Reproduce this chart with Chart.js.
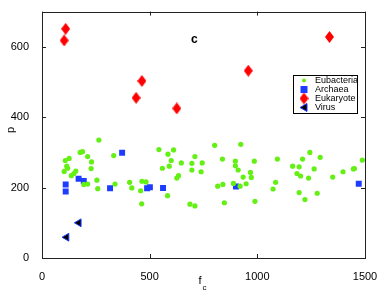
<!DOCTYPE html>
<html>
<head>
<meta charset="utf-8">
<script src="https://cdn.jsdelivr.net/npm/chart.js@4"></script>
<style>
  body { margin: 0; background: #fff; }
  canvas { display: block; }
</style>
</head>
<body>
<canvas id="my-chart" width="382" height="293"></canvas>
<script>
// values
var eubX = [264, 177, 188, 543, 611, 585, 108, 126, 115, 119, 103, 136, 148, 157, 212, 230, 228, 194, 212, 255,
            259, 333, 339, 407, 417, 464, 483, 458, 463, 559, 591, 600, 583, 647, 634, 626, 710, 696, 696, 687,
            710, 802, 923, 744, 739, 838, 898, 898, 911, 934, 968, 972, 986, 948, 889, 920, 840, 816, 847, 989,
            1093, 1085, 1073, 1164, 1194, 1210, 1244, 1292, 1264, 1184, 1201, 1238, 1194, 1221, 1278, 1350, 1398, 1446, 1451, 1488];
var eubY = [335, 300, 302, 308, 307, 295, 277, 283, 261, 255, 246, 234, 240, 247, 288, 273, 254, 209, 210, 221,
            197, 291, 210, 215, 199, 218, 216, 191, 154, 255, 261, 277, 177, 270, 234, 227, 288, 269, 250, 153,
            148, 320, 323, 270, 245, 281, 275, 262, 250, 230, 243, 229, 275, 211, 212, 204, 209, 204, 157, 161,
            281, 215, 196, 261, 259, 281, 300, 286, 253, 240, 233, 227, 186, 166, 184, 230, 245, 253, 254, 278];

var archX = [110, 110, 170, 194, 372, 316, 488, 501, 562, 901, 1471];
var archY = [209, 189, 225, 219, 299, 198, 198, 201, 199, 203, 211];

var eukX = [110, 103, 464, 437, 626, 1335, 958];
var eukY = [651, 618, 503, 455, 425, 628, 532];

var virX = [171, 114];
var virY = [100, 59];

var xTicks = [0, 500, 1000, 1500];
var yTicks = [0, 200, 400, 600];

function pts(xs, ys) {
  return xs.map(function (x, i) { return { x: x, y: ys[i] }; });
}

var green = 'rgb(100, 240, 20)';
var blue = 'rgb(30, 60, 255)';
var red = 'rgb(255, 0, 0)';

// taller diamond like the original marker
var diamond = document.createElement('canvas');
diamond.width = 9; diamond.height = 12;
(function () {
  var c = diamond.getContext('2d');
  c.fillStyle = red;
  c.beginPath();
  c.moveTo(4.5, 0); c.lineTo(9, 6); c.lineTo(4.5, 12); c.lineTo(0, 6);
  c.closePath();
  c.fill();
})();

var font = '"Liberation Sans", Arial, sans-serif';

var boxPlugin = {
  id: 'box',
  afterDraw: function (chart) {
    var ctx = chart.ctx, a = chart.chartArea;
    var sx = chart.scales.x, sy = chart.scales.y;
    ctx.save();
    ctx.strokeStyle = '#222';
    ctx.lineWidth = 1;
    ctx.strokeRect(Math.round(a.left) + 0.5, Math.round(a.top) + 0.5,
                   Math.round(a.right - a.left), Math.round(a.bottom - a.top));
    ctx.beginPath();
    xTicks.forEach(function (v) {
      var px = Math.round(sx.getPixelForValue(v)) + 0.5;
      ctx.moveTo(px, a.bottom); ctx.lineTo(px, a.bottom - 4);
      ctx.moveTo(px, a.top); ctx.lineTo(px, a.top + 4);
    });
    yTicks.forEach(function (v) {
      var py = Math.round(sy.getPixelForValue(v)) + 0.5;
      ctx.moveTo(a.left, py); ctx.lineTo(a.left + 4, py);
      ctx.moveTo(a.right, py); ctx.lineTo(a.right - 4, py);
    });
    ctx.stroke();

    // axis labels
    ctx.fillStyle = '#000';
    ctx.font = '11px ' + font;
    ctx.textAlign = 'center';
    ctx.textBaseline = 'middle';
    ctx.save();
    ctx.translate(11, 130);
    ctx.rotate(-Math.PI / 2);
    ctx.fillText('p', 0, 0);
    ctx.restore();
    ctx.fillText('f', 200, 281);
    ctx.font = '8px ' + font;
    ctx.fillText('c', 204.5, 288);

    // panel letter
    ctx.font = 'bold 12px ' + font;
    ctx.fillText('c', sx.getPixelForValue(708), sy.getPixelForValue(620));

    // legend
    var lx = 293, ly = 75, lw = 64, lh = 38;
    ctx.fillStyle = '#fff';
    ctx.fillRect(lx, ly, lw, lh);
    ctx.strokeStyle = '#000';
    ctx.strokeRect(lx + 0.5, ly + 0.5, lw, lh);
    var names = ['Eubacteria', 'Archaea', 'Eukaryote', 'Virus'];
    var mx = 304;
    names.forEach(function (n, i) {
      var y = 80.5 + i * 9;
      if (i === 0) {
        ctx.fillStyle = green;
        ctx.beginPath(); ctx.arc(mx, y, 2, 0, Math.PI * 2); ctx.fill();
      } else if (i === 1) {
        ctx.fillStyle = blue;
        ctx.fillRect(mx - 3.5, y - 3.5, 7, 7);
      } else if (i === 2) {
        ctx.drawImage(diamond, mx - 4.5, y - 6);
      } else {
        ctx.fillStyle = '#000';
        ctx.strokeStyle = blue;
        ctx.beginPath();
        ctx.moveTo(mx - 4, y); ctx.lineTo(mx + 3, y - 4); ctx.lineTo(mx + 3, y + 4);
        ctx.closePath(); ctx.fill(); ctx.stroke();
      }
      ctx.fillStyle = '#000';
      ctx.font = '9px ' + font;
      ctx.textAlign = 'left';
      ctx.fillText(n, 315, y + 0.5);
    });
    ctx.restore();
  }
};

var chart1 = document.getElementById('my-chart').getContext('2d');

var myChart = new Chart(chart1, {
  type: 'scatter',
  data: {
    datasets: [{
      label: 'Eubacteria',
      data: pts(eubX, eubY),
      pointStyle: 'circle',
      pointRadius: 2.6,
      backgroundColor: green,
      borderColor: green,
      borderWidth: 0
    }, {
      label: 'Archaea',
      data: pts(archX, archY),
      pointStyle: 'rect',
      pointRadius: 4.2,
      backgroundColor: blue,
      borderColor: blue,
      borderWidth: 0
    }, {
      label: 'Eukaryote',
      data: pts(eukX, eukY),
      pointStyle: diamond,
      backgroundColor: red
    }, {
      label: 'Virus',
      data: pts(virX, virY),
      pointStyle: 'triangle',
      rotation: -90,
      pointRadius: 4.5,
      backgroundColor: '#000',
      borderColor: blue,
      borderWidth: 1
    }]
  },
  options: {
    responsive: false,
    animation: false,
    devicePixelRatio: 1,
    layout: { padding: { left: 0, right: 17, top: 4, bottom: 0 } },
    plugins: {
      legend: { display: false },
      tooltip: { enabled: false }
    },
    scales: {
      x: {
        type: 'linear',
        min: 0,
        max: 1500,
        grid: { display: false },
        border: { display: false },
        ticks: {
          stepSize: 500, color: '#000', font: { size: 11, family: font }, padding: 4, maxRotation: 0,
          callback: function (v) { return String(v); }
        },
        afterFit: function (s) { s.height = 35; }
      },
      y: {
        type: 'linear',
        min: 0,
        max: 700,
        grid: { display: false },
        border: { display: false },
        ticks: {
          stepSize: 200, color: '#000', font: { size: 11, family: font }, padding: 5,
          callback: function (v) { return String(v); }
        },
        afterBuildTicks: function (s) {
          s.ticks = s.ticks.filter(function (t) { return yTicks.indexOf(t.value) >= 0; });
        },
        afterFit: function (s) { s.width = 42; }
      }
    }
  },
  plugins: [boxPlugin]
});
</script>
</body>
</html>
